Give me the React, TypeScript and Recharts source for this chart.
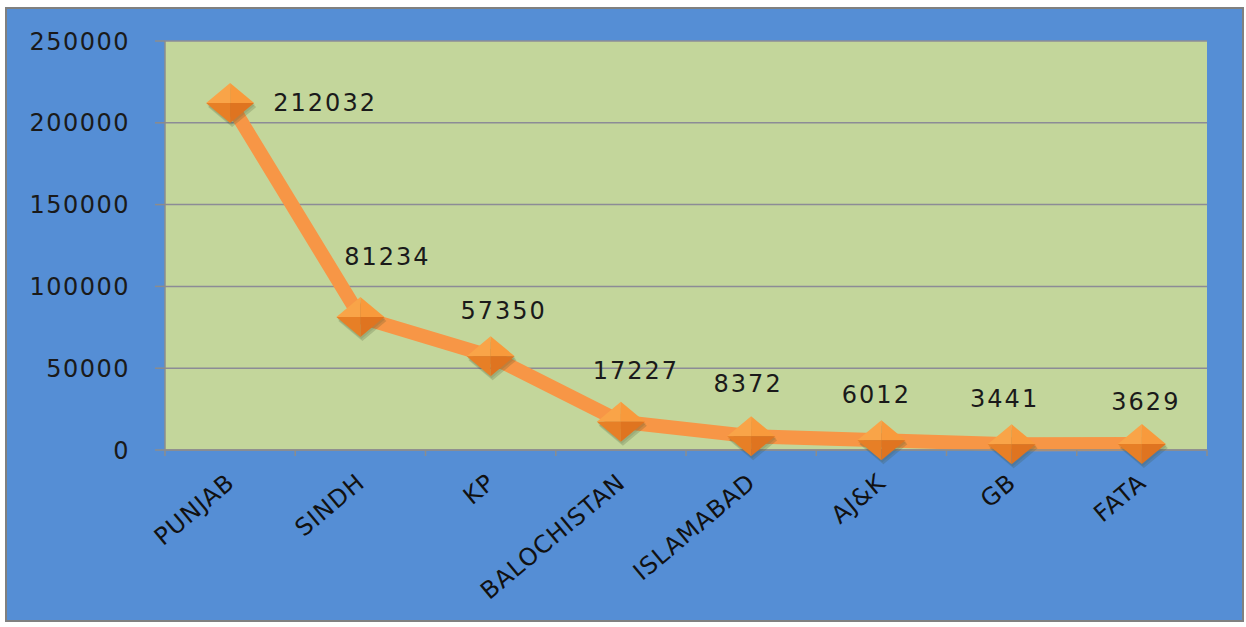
import { LineChart, Line, XAxis, YAxis, CartesianGrid, LabelList } from 'recharts';

// provinces / regions and their values
const regions = ['PUNJAB', 'SINDH', 'KP', 'BALOCHISTAN', 'ISLAMABAD', 'AJ&K', 'GB', 'FATA'];
const counts = [212032, 81234, 57350, 17227, 8372, 6012, 3441, 3629];
const yTicks = [0, 50000, 100000, 150000, 200000, 250000];

// hand-placed label nudges (relative to each point), like in the original sheet
const labelDx = [95, 27, 13, 15, -3, -5, -7, 4];
const labelDy = [0, -60, -45, -51, -52, -45, -45, -42];

const data = regions.map((name, i) => ({ name, value: counts[i] }));

const CHART_W = 1235;
const CHART_H = 611;
const Y_AXIS_W = 158;
const MARGIN = { top: 32, right: 35, left: 0, bottom: 0 };
const BAND = (CHART_W - Y_AXIS_W - MARGIN.right) / regions.length;

const FONT = '"DejaVu Sans", Verdana, sans-serif';

function Diamond(props: any) {
  const { cx, cy } = props;
  if (cx == null || cy == null) return null;
  const w = 24;
  const h = 20;
  const L = `${cx - w},${cy}`;
  const R = `${cx + w},${cy}`;
  const T = `${cx},${cy - h}`;
  const B = `${cx},${cy + h}`;
  const C = `${cx},${cy}`;
  const s = (dx: number, dy: number) =>
    `${cx - w + dx},${cy + dy} ${cx + dx},${cy - h + dy} ${cx + w + dx},${cy + dy} ${cx + dx},${cy + h + dy}`;
  return (
    <g>
      <polygon points={s(2, 4)} fill="#3a4a2a" opacity={0.2} />
      <polygon points={s(1, 2)} fill="#3a4a2a" opacity={0.12} />
      <polygon points={`${L} ${T} ${C}`} fill="#f9a448" />
      <polygon points={`${T} ${R} ${C}`} fill="#f89a3c" />
      <polygon points={`${R} ${B} ${C}`} fill="#df7420" />
      <polygon points={`${B} ${L} ${C}`} fill="#e77f26" />
    </g>
  );
}

function ValueLabel(props: any) {
  const { x, y, value, index } = props;
  return (
    <text
      x={x + labelDx[index]}
      y={y + labelDy[index]}
      textAnchor="middle"
      dominantBaseline="central"
      fontFamily={FONT}
      fontSize={24}
      letterSpacing={2}
      fill="#1a1a1a"
    >
      {value}
    </text>
  );
}

function RegionTick(props: any) {
  const { x, y, payload, index } = props;
  const last = index === regions.length - 1;
  return (
    <g>
      <line x1={x - BAND / 2} y1={y} x2={x - BAND / 2} y2={y + 6} stroke="#8c8c8c" strokeWidth={1.5} />
      {last && <line x1={x + BAND / 2} y1={y} x2={x + BAND / 2} y2={y + 6} stroke="#8c8c8c" strokeWidth={1.5} />}
      <text
        x={x + 6}
        y={y + 35}
        textAnchor="end"
        transform={`rotate(-40, ${x + 6}, ${y + 35})`}
        fontFamily={FONT}
        fontSize={24}
        letterSpacing={1}
        fill="#111"
      >
        {payload.value}
      </text>
    </g>
  );
}

export default function App() {
  return (
    <div
      style={{
        position: 'absolute',
        left: 5,
        top: 7,
        width: CHART_W,
        height: CHART_H,
        background: '#558ed5',
        border: '2px solid #808080',
      }}
    >
      <LineChart width={CHART_W} height={CHART_H} data={data} margin={MARGIN}>
        <CartesianGrid vertical={false} fill="#c3d69b" stroke="#8c8c96" strokeWidth={1.5} />
        <XAxis
          dataKey="name"
          interval={0}
          height={170}
          tickSize={0}
          tickMargin={0}
          padding={{ left: BAND / 2, right: BAND / 2 }}
          axisLine={{ stroke: '#8c8c8c', strokeWidth: 1.5 }}
          tick={<RegionTick />}
        />
        <YAxis
          width={Y_AXIS_W}
          domain={[0, 250000]}
          ticks={yTicks}
          tickSize={10}
          tickMargin={25}
          axisLine={{ stroke: '#8c8c8c', strokeWidth: 1.5 }}
          tickLine={{ stroke: '#8c8c8c', strokeWidth: 1.5 }}
          tick={{ fontFamily: FONT, fontSize: 24, fill: '#1a1a1a', letterSpacing: 1.5 }}
        />
        <Line
          type="linear"
          dataKey="value"
          stroke="#f79646"
          strokeWidth={14}
          strokeLinejoin="round"
          dot={<Diamond />}
          activeDot={false}
          isAnimationActive={false}
        >
          <LabelList dataKey="value" content={<ValueLabel />} />
        </Line>
      </LineChart>
    </div>
  );
}
